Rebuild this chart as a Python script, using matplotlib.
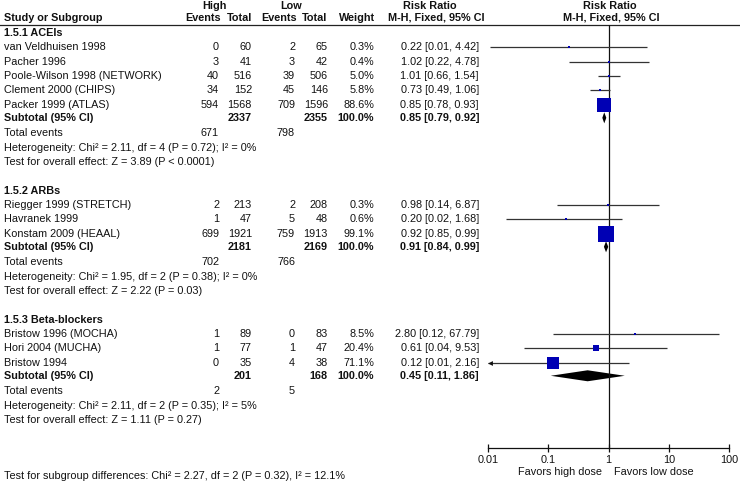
import numpy as np
import matplotlib.pyplot as plt
from matplotlib.patches import Polygon

plt.rcParams['font.family'] = ['Liberation Sans', 'DejaVu Sans']
FS = 7.8

# ---- data -------------------------------------------------------------
group_titles = ['1.5.1 ACEIs', '1.5.2 ARBs', '1.5.3 Beta-blockers']

studies = [
    ['van Veldhuisen 1998', 'Pacher 1996', 'Poole-Wilson 1998 (NETWORK)',
     'Clement 2000 (CHIPS)', 'Packer 1999 (ATLAS)'],
    ['Riegger 1999 (STRETCH)', 'Havranek 1999', 'Konstam 2009 (HEAAL)'],
    ['Bristow 1996 (MOCHA)', 'Hori 2004 (MUCHA)', 'Bristow 1994'],
]
high_events = [[0, 3, 40, 34, 594], [2, 1, 699], [1, 1, 0]]
high_total = [[60, 41, 516, 152, 1568], [213, 47, 1921], [89, 77, 35]]
low_events = [[2, 3, 39, 45, 709], [2, 5, 759], [0, 1, 4]]
low_total = [[65, 42, 506, 146, 1596], [208, 48, 1913], [83, 47, 38]]
weight = [[0.3, 0.4, 5.0, 5.8, 88.6], [0.3, 0.6, 99.1], [8.5, 20.4, 71.1]]
rr = [[0.22, 1.02, 1.01, 0.73, 0.85], [0.98, 0.20, 0.92], [2.80, 0.61, 0.12]]
rr_lo = [[0.01, 0.22, 0.66, 0.49, 0.78], [0.14, 0.02, 0.85], [0.12, 0.04, 0.01]]
rr_hi = [[4.42, 4.78, 1.54, 1.06, 0.93], [6.87, 1.68, 0.99], [67.79, 9.53, 2.16]]
# CI runs past the left edge of the scale (drawn with an arrow)
off_scale = [[False] * 5, [False] * 3, [False, False, True]]

sub_high_total = [2337, 2181, 201]
sub_low_total = [2355, 2169, 168]
sub_rr = [0.85, 0.91, 0.45]
sub_lo = [0.79, 0.84, 0.11]
sub_hi = [0.92, 0.99, 1.86]
tot_high = [671, 702, 2]
tot_low = [798, 766, 5]
heterogeneity = [
    'Heterogeneity: Chi\u00b2 = 2.11, df = 4 (P = 0.72); I\u00b2 = 0%',
    'Heterogeneity: Chi\u00b2 = 1.95, df = 2 (P = 0.38); I\u00b2 = 0%',
    'Heterogeneity: Chi\u00b2 = 2.11, df = 2 (P = 0.35); I\u00b2 = 5%',
]
overall = [
    'Test for overall effect: Z = 3.89 (P < 0.0001)',
    'Test for overall effect: Z = 2.22 (P = 0.03)',
    'Test for overall effect: Z = 1.11 (P = 0.27)',
]
subgroup_test = 'Test for subgroup differences: Chi\u00b2 = 2.27, df = 2 (P = 0.32), I\u00b2 = 12.1%'

xticks = [0.01, 0.1, 1, 10, 100]
xtick_labels = ['0.01', '0.1', '1', '10', '100']

# ---- layout (pixel coords) -------------------------------------------
W, H = 740, 487
Y0, DY = 33, 14.33
X_NAME = 4
X_HE, X_HT, X_LE, X_LT, X_W, X_RR = 219, 252, 295, 328, 374, 479
X_AX0, X_AX1 = 488, 729
Y_TOP, Y_AX = 25, 448

fig = plt.figure(figsize=(W / 100, H / 100), dpi=100)
bg = fig.add_axes([0, 0, 1, 1])
bg.set_xlim(0, W)
bg.set_ylim(H, 0)
bg.axis('off')

fp = fig.add_axes([X_AX0 / W, (H - Y_AX) / H, (X_AX1 - X_AX0) / W, (Y_AX - Y_TOP) / H])
fp.patch.set_visible(False)
fp.set_xscale('log')
fp.set_xlim(0.01, 100)
fp.set_ylim(Y_AX, Y_TOP)


def txt(x, y, s, ha='left', bold=False):
    bg.text(x, y, s, ha=ha, va='center', fontsize=FS,
            fontweight='bold' if bold else 'normal', color='#111111')


# header
bold = True
txt(214, 6, 'High', 'center', bold)
txt(291, 6, 'Low', 'center', bold)
txt(430, 6, 'Risk Ratio', 'center', bold)
txt(610, 6, 'Risk Ratio', 'center', bold)
txt(X_NAME, 18, 'Study or Subgroup', bold=bold)
txt(X_HE + 2, 18, 'Events', 'right', bold)
txt(X_HT, 18, 'Total', 'right', bold)
txt(X_LE + 2, 18, 'Events', 'right', bold)
txt(X_LT - 1, 18, 'Total', 'right', bold)
txt(X_W + 1, 18, 'Weight', 'right', bold)
txt(436, 18, 'M-H, Fixed, 95% CI', 'center', bold)
txt(611, 18, 'M-H, Fixed, 95% CI', 'center', bold)
bg.plot([0, W], [Y_TOP, Y_TOP], color='#222222', lw=0.9)

fp.axvline(1, color='#111111', lw=0.9)

row = 0
for g in range(len(group_titles)):
    y = Y0 + row * DY
    txt(X_NAME, y, group_titles[g], bold=True)
    row += 1
    for i, name in enumerate(studies[g]):
        y = Y0 + row * DY
        txt(X_NAME, y, name)
        txt(X_HE, y, str(high_events[g][i]), 'right')
        txt(X_HT, y, str(high_total[g][i]), 'right')
        txt(X_LE, y, str(low_events[g][i]), 'right')
        txt(X_LT, y, str(low_total[g][i]), 'right')
        txt(X_W, y, f'{weight[g][i]:.1f}%', 'right')
        txt(X_RR, y, f'{rr[g][i]:.2f} [{rr_lo[g][i]:.2f}, {rr_hi[g][i]:.2f}]', 'right')
        # CI line + square
        lo = rr_lo[g][i]
        if not off_scale[g][i]:
            lo = max(lo, 0.0107)
        fp.plot([lo, rr_hi[g][i]], [y, y], color='#333333', lw=0.9,
                solid_capstyle='butt', clip_on=False)
        side = max(2.0, 16 * (weight[g][i] / 99.1) ** 0.7)
        fp.plot(rr[g][i], y, 's', ms=side * 0.72, color='#0000b4', mew=0)
        if off_scale[g][i]:
            fp.plot(0.0108, y, '<', ms=3.5, color='#111111', mew=0, clip_on=False)
        row += 1
    y = Y0 + (row - 0.08) * DY
    txt(X_NAME, y, 'Subtotal (95% CI)', bold=True)
    txt(X_HT, y, str(sub_high_total[g]), 'right', True)
    txt(X_LT, y, str(sub_low_total[g]), 'right', True)
    txt(X_W, y, '100.0%', 'right', True)
    txt(X_RR, y, f'{sub_rr[g]:.2f} [{sub_lo[g]:.2f}, {sub_hi[g]:.2f}]', 'right', True)
    dh = 5.5
    fp.add_patch(Polygon([(sub_lo[g], y), (sub_rr[g], y - dh), (sub_hi[g], y),
                          (sub_rr[g], y + dh)], closed=True, color='black', lw=0))
    row += 1
    y = Y0 + row * DY
    txt(X_NAME, y, 'Total events')
    txt(X_HE, y, str(tot_high[g]), 'right')
    txt(X_LE, y, str(tot_low[g]), 'right')
    row += 1
    txt(X_NAME, Y0 + row * DY, heterogeneity[g])
    row += 1
    txt(X_NAME, Y0 + row * DY, overall[g])
    row += 2

txt(X_NAME, 476, subgroup_test)

# forest axis
for s in ['top', 'left', 'right']:
    fp.spines[s].set_visible(False)
fp.spines['bottom'].set_linewidth(0.9)
fp.spines['bottom'].set_color('#111111')
fp.set_yticks([])
fp.set_xticks(xticks)
fp.set_xticklabels(xtick_labels)
fp.minorticks_off()
fp.tick_params(axis='x', direction='inout', length=6, width=0.9, labelsize=FS,
               pad=2, colors='#111111')

txt(602, 472, 'Favors high dose', 'right')
txt(614, 472, 'Favors low dose', 'left')

fig.savefig('out.png', dpi=100)
